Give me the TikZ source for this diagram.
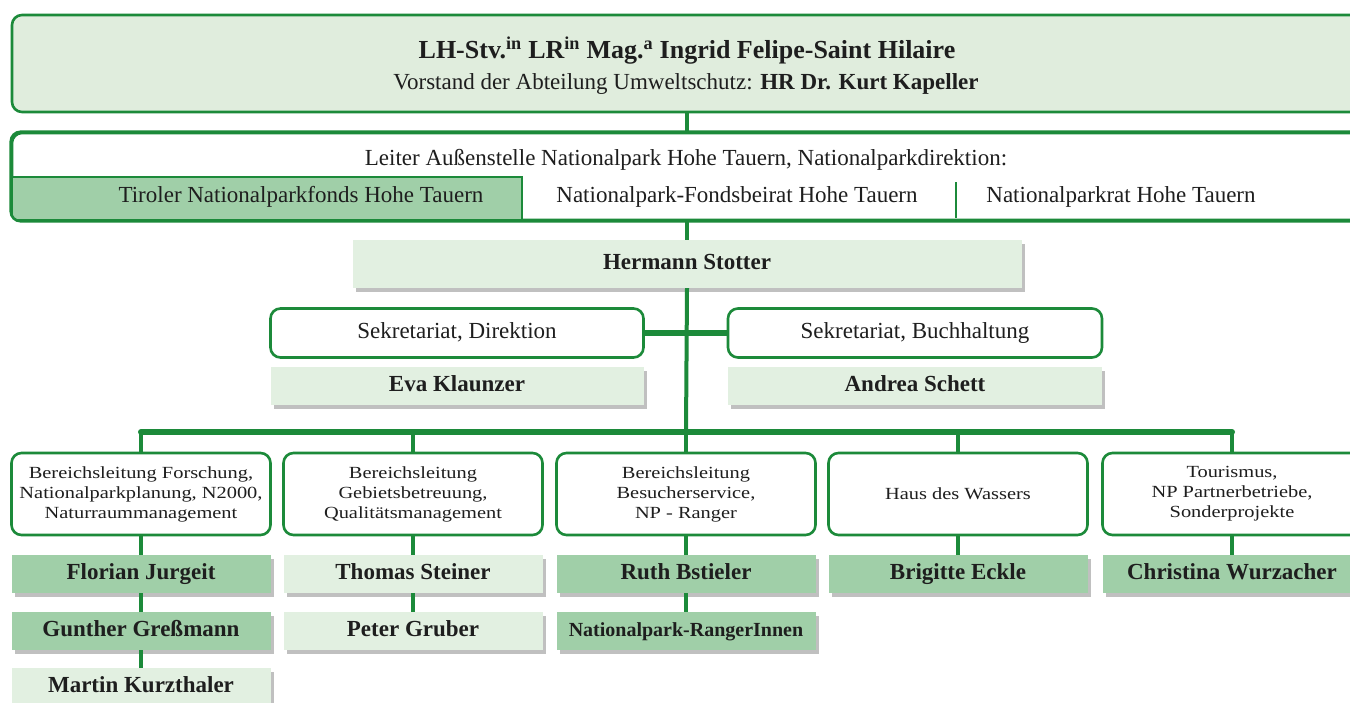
\documentclass[tikz,border=0pt]{standalone}
\usepackage{fontspec}
\setmainfont{Liberation Serif}
\newfontfamily\widefont[FakeStretch=1.2]{Liberation Serif}
\usetikzlibrary{shadows}
\definecolor{gline}{RGB}{28,138,58}
\definecolor{gmid}{RGB}{160,207,168}
\definecolor{glight}{RGB}{226,240,225}
\definecolor{gtop}{RGB}{224,237,221}
\definecolor{txt}{RGB}{30,30,30}
\begin{document}
\begin{tikzpicture}[x=1pt,y=-1pt,
  every node/.style={text=txt},
  rbox/.style={draw=gline, line width=2.6pt, rounded corners=10pt, inner sep=0pt, align=center},
  hbox/.style={fill=#1, inner sep=0pt, minimum height=38pt, text height=16pt, text depth=5pt,
     drop shadow={shadow xshift=3pt, shadow yshift=-4pt, opacity=0.35, fill=black!70},
     font=\fontsize{23}{26}\selectfont\bfseries},
  pbox/.style={hbox=#1, minimum width=259pt},
  unitbox/.style={rbox, fill=white, minimum width=259pt, minimum height=82pt,
     font=\widefont\fontsize{17}{20}\selectfont},
  regtext/.style={font=\fontsize{23}{26}\selectfont},
  conn/.style={draw=gline, line width=4pt},
  busline/.style={draw=gline, line width=6pt, line cap=round}]
\clip (0,0) rectangle (1350,702);
\fill[white] (0,0) rectangle (1350,702);

% ---------- coordinates for the bus ----------
\coordinate (bus) at (686,432);
\coordinate (busL) at (141,432);
\coordinate (busR) at (1232,432);

% ---------- top box ----------
\node[rbox, fill=gtop, minimum width=1358pt, minimum height=97pt] (top) at (691,63.5) {};
\node[font=\fontsize{26}{28}\selectfont\bfseries] (t1) at (687,51)
  {LH-Stv.\textsuperscript{in} LR\textsuperscript{in} Mag.\textsuperscript{a} Ingrid Felipe-Saint Hilaire};
\node[regtext] (t2) at (686,84)
  {Vorstand der Abteilung Umweltschutz: \textbf{HR Dr. Kurt Kapeller}};

% ---------- Hermann Stotter ----------
\node[hbox=glight, minimum width=669pt, minimum height=48pt] (hs) at (687,264) {Hermann Stotter};

% ---------- main connectors ----------
\draw[conn] (hs.north |- top.south) -- (hs.north);
\draw[conn] (hs.south) -- (bus);

% ---------- second box ----------
\node[rbox, fill=white, minimum width=1358pt, minimum height=87pt] (sec) at (691,176.5) {};
\begin{scope}
  \clip[rounded corners=10pt] (sec.north west) rectangle (sec.south east);
  \node[fill=gmid, draw=gline, line width=2pt, minimum width=510pt, minimum height=43pt, inner sep=0pt] (cell) at (267,198.5) {};
\end{scope}
\draw[gline, line width=2.6pt, rounded corners=10pt] (sec.north west) rectangle (sec.south east);
\node[regtext] (lead) at (686,160) {Leiter Außenstelle Nationalpark Hohe Tauern, Nationalparkdirektion:};
\node[regtext] (f1) at (301,197) {Tiroler Nationalparkfonds Hohe Tauern};
\node[regtext] (f2) at (737,197) {Nationalpark-Fondsbeirat Hohe Tauern};
\node[regtext] (f3) at (1121,197) {Nationalparkrat Hohe Tauern};
\coordinate (sepT) at (956,182);
\coordinate (sepB) at (956,218);
\draw[gline, line width=2.6pt] (sepT) -- (sepB);

% ---------- secretariats ----------
\node[rbox, fill=white, minimum width=373pt, minimum height=49pt, regtext, text height=16pt, text depth=5pt] (sd) at (457,333) {Sekretariat, Direktion};
\node[rbox, fill=white, minimum width=374pt, minimum height=49pt, regtext, text height=16pt, text depth=5pt] (sb) at (915,333) {Sekretariat, Buchhaltung};
\draw[busline, line cap=butt] (sd.east) -- (sb.west);
\node[hbox=glight, minimum width=373pt] (ek) at (457,386) {Eva Klaunzer};
\node[hbox=glight, minimum width=374pt] (as) at (915,386) {Andrea Schett};

% ---------- units ----------
\node[unitbox] (b1) at (141,494) {Bereichsleitung Forschung,\\Nationalparkplanung, N2000,\\Naturraummanagement};
\node[unitbox] (b2) at (413,494) {Bereichsleitung\\Gebietsbetreuung,\\Qualitätsmanagement};
\node[unitbox] (b3) at (686,494) {Bereichsleitung\\Besucherservice,\\NP - Ranger};
\node[unitbox] (b4) at (958,494) {Haus des Wassers};
\node[unitbox] (b5) at (1232,494) {Tourismus,\\NP Partnerbetriebe,\\Sonderprojekte};

% ---------- bus ----------
\draw[busline] (busL) -- (busR);
\foreach \b in {b1,b2,b3,b4,b5}{
  \draw[conn] (\b.north |- bus) -- (\b.north);
}

% ---------- people ----------
\node[pbox=gmid]   (p11) at (141,574) {Florian Jurgeit};
\node[pbox=glight] (p21) at (413,574) {Thomas Steiner};
\node[pbox=gmid]   (p31) at (686,574) {Ruth Bstieler};
\node[pbox=gmid]   (p41) at (958,574) {Brigitte Eckle};
\node[pbox=gmid]   (p51) at (1232,574) {Christina Wurzacher};
\node[pbox=gmid]   (p12) at (141,631) {Gunther Greßmann};
\node[pbox=glight] (p22) at (413,631) {Peter Gruber};
\node[pbox=gmid, font=\fontsize{20}{22}\selectfont\bfseries] (p32) at (686,631) {Nationalpark-RangerInnen};
\node[pbox=glight] (p13) at (141,687) {Martin Kurzthaler};

\foreach \a/\c in {b1/p11,p11/p12,p12/p13,b2/p21,p21/p22,b3/p31,p31/p32,b4/p41,b5/p51}{
  \draw[conn] (\a.south) -- (\c.north);
}
\end{tikzpicture}
\end{document}
